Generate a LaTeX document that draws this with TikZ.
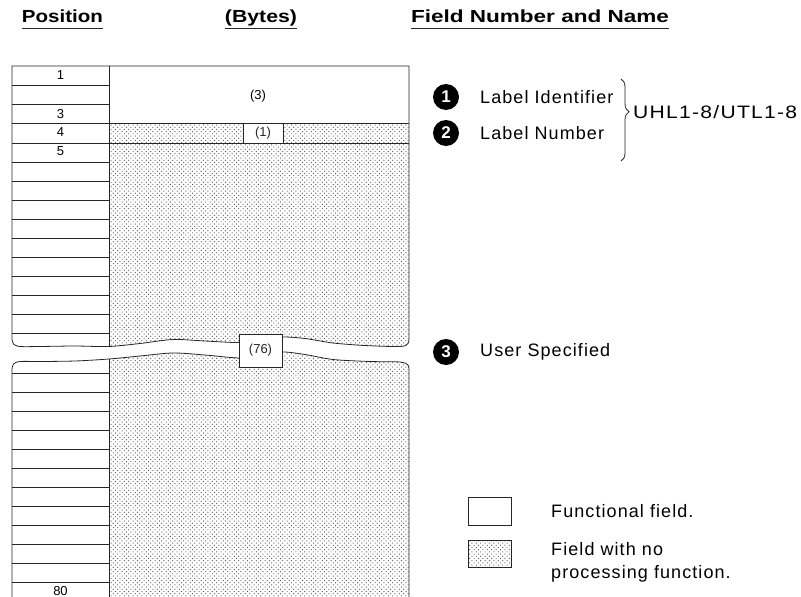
\documentclass[tikz,border=0pt]{standalone}
\usepackage{fontspec}
\setmainfont{Liberation Sans}
\usetikzlibrary{patterns,decorations.pathreplacing}
\pgfdeclarepatternformonly{mydots}{\pgfqpoint{-1pt}{-1pt}}{\pgfqpoint{5.4pt}{5.4pt}}{\pgfqpoint{4.4pt}{4.4pt}}{%
  \pgfpathcircle{\pgfqpoint{1.1pt}{1.1pt}}{0.6pt}%
  \pgfpathcircle{\pgfqpoint{3.3pt}{3.3pt}}{0.6pt}%
  \pgfusepath{fill}}
\newcommand\fitw[2]{\resizebox{#1}{\height}{#2}}
\begin{document}
\begin{tikzpicture}[x=1pt,y=-1pt,
  ln/.style={line width=0.8pt, black!85},
  dotfill/.style={pattern=mydots, pattern color=black!70},
  hdr/.style={inner sep=0pt, anchor=base, font=\fontsize{17.5}{17.5}\selectfont\bfseries},
  body/.style={inner sep=0pt, anchor=west, font=\fontsize{18}{25}\selectfont\addfontfeature{LetterSpace=6}},
  small/.style={inner sep=0pt, font=\fontsize{13}{13}\selectfont},
  numc/.style={circle, fill=black, inner sep=0pt, minimum size=26pt, text=white, font=\fontsize{17}{17}\selectfont\bfseries},
  ]
\useasboundingbox (0,0) rectangle (801,597);
\clip (0,0) rectangle (801,597);

% headers
\node[hdr] (hpos) at (62.5,22) {\fitw{81pt}{Position}};
\node[hdr] (hbyt) at (261,22) {\fitw{72pt}{(Bytes)}};
\node[hdr] (hfld) at (540,22) {\fitw{258pt}{Field Number and Name}};
\draw[ln] ([yshift=-6pt]hpos.base west) -- ([yshift=-6pt]hpos.base east);
\draw[ln] ([yshift=-6pt]hbyt.base west) -- ([yshift=-6pt]hbyt.base east);
\draw[ln] ([yshift=-6pt]hfld.base west) -- ([yshift=-6pt]hfld.base east);

% top section fill
\begin{scope}
\clip (12,66) -- (409,66) -- (409,336) -- plot[smooth] coordinates {(409,336) (408,343.5) (400,346.5) (365,345.5) (333,343) (305,338.5) (282,337) (260,339.5) (239,342.5) (205,341) (173,339.5) (140,343.5) (109,346.5) (75,346) (40,346.5) (20,346.5) (13.5,344) (12,339)} -- cycle;
\fill[dotfill] (109,123) rectangle (409,400);
\end{scope}
\draw[ln] (12,339) -- (12,66) -- (409,66) -- (409,336) -- plot[smooth] coordinates {(409,336) (408,343.5) (400,346.5) (365,345.5) (333,343) (305,338.5) (282,337) (260,339.5) (239,342.5) (205,341) (173,339.5) (140,343.5) (109,346.5) (75,346) (40,346.5) (20,346.5) (13.5,344) (12,339)};
\draw[ln] (109,66) -- (109,346.5);
\foreach \yy in {85,104,162,181,200,219,238,257,276,295,314,333}
  \draw[ln] (12,\yy) -- (109,\yy);
\draw[ln] (12,123) -- (409,123);
\draw[ln] (12,143) -- (409,143);

% bottom section
\begin{scope}
\clip (12,610) -- (12,369) -- plot[smooth] coordinates {(12,369) (13.5,364) (20,361.5) (40,361.5) (75,361) (109,359) (140,356) (173,353) (205,355) (239,358) (260,356) (282,352) (305,354.5) (333,359.5) (370,361.5) (400,362) (408,365) (409,370)} -- (409,610) -- cycle;
\fill[dotfill] (109,340) rectangle (409,610);
\end{scope}
\draw[ln] (12,610) -- (12,369) -- plot[smooth] coordinates {(12,369) (13.5,364) (20,361.5) (40,361.5) (75,361) (109,359) (140,356) (173,353) (205,355) (239,358) (260,356) (282,352) (305,354.5) (333,359.5) (370,361.5) (400,362) (408,365) (409,370)} -- (409,610);
\draw[ln] (109,359) -- (109,610);
\foreach \yy in {373,392,411,430,449,468,487,506,525,544,563,582}
  \draw[ln] (12,\yy) -- (109,\yy);

% position numbers
\node[small] (p1) at (60.5,75) {1};
\node[small] (p3) at (60.5,114) {3};
\node[small] (p4) at (60.5,132) {4};
\node[small] (p5) at (60.5,151) {5};
\node[small] (p80) at (60.5,591) {80};

% byte counts
\node[small] (b3) at (258,96) {(3)};
\node[draw, ln, fill=white, minimum width=40pt, minimum height=20pt, small] (b1) at (263,133) {(1)};
\node[draw, ln, fill=white, minimum width=43pt, minimum height=33pt, small] (b76) at (260.5,350.5) {(76)};

% field names
\node[numc] (c1) at (446,97) {1};
\node[body] (t1) at (480,97) {Label Identifier};
\node[numc] (c2) at (446,133) {2};
\node[body] (t2) at (480,133) {Label Number};
\coordinate (brt) at (621,79);
\coordinate (brb) at (621,161);
\draw[ln, decorate, decoration={brace, amplitude=8pt, aspect=0.4}] (brt) -- (brb);
\node[body] (uhl) at (633,112) {\fitw{164pt}{UHL1-8/UTL1-8}};
\node[numc] (c3) at (446,352) {3};
\node[body] (t3) at (480,352) {User Specified};

% legend
\node[draw, ln, minimum width=43pt, minimum height=28pt] (lw) at (490,511) {};
\node[draw, ln, dotfill, minimum width=43pt, minimum height=27pt] (ld) at (490,553.5) {};
\node[body] (lt1) at (551,511) {Functional field.};
\node[body] (lt2a) at (551,549) {Field with no};
\node[body] (lt2b) at (551,574) {processing function.};
\end{tikzpicture}
\end{document}
